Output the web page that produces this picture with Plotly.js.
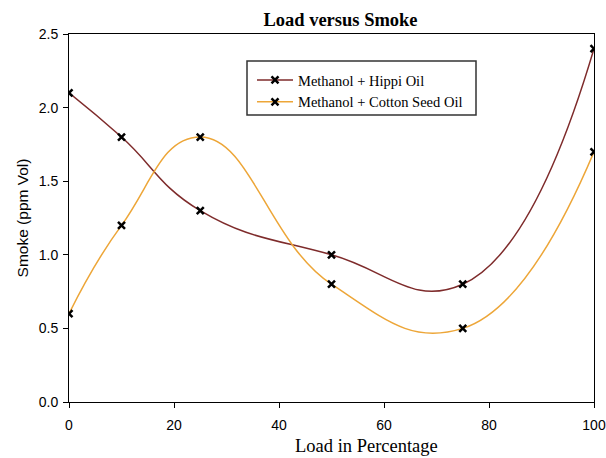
<!DOCTYPE html>
<html><head><script src="https://cdn.plot.ly/plotly-3.0.1.min.js"></script>
<style>body{margin:0}</style></head><body>
<div id="chart" style="width:606px;height:458px"></div>
<script>
const loads = [0, 10, 25, 50, 75, 100];
const hippi = [2.1, 1.8, 1.3, 1.0, 0.8, 2.4];
const cotton = [0.6, 1.2, 1.8, 0.8, 0.5, 1.7];
const seriesNames = ["Methanol + Hippi Oil", "Methanol + Cotton Seed Oil"];
const xTicks = [0, 20, 40, 60, 80, 100];
const yTicks = [0, 0.5, 1, 1.5, 2, 2.5];

const mk = {symbol: "x-thin", size: 7, color: "black", line: {color: "black", width: 2.5}};
const traces = [
  {x: loads, y: hippi, name: seriesNames[0], mode: "lines+markers", line: {color: "#7E2B2B", width: 1.5, shape: "spline", smoothing: 1.3}, marker: mk},
  {x: loads, y: cotton, name: seriesNames[1], mode: "lines+markers", line: {color: "#EDA638", width: 1.5, shape: "spline", smoothing: 1.3}, marker: mk}
];
const layout = {
  width: 606, height: 458,
  margin: {l: 69, r: 12, t: 34, b: 56},
  paper_bgcolor: "white", plot_bgcolor: "white",
  title: {text: "<b>Load versus Smoke</b>", font: {family: "Liberation Serif", size: 18.5, color: "black"}, x: 340.5/606, xanchor: "center", xref: "container", yref: "container", y: 1 - 20/458, yanchor: "middle"},
  xaxis: {range: [0, 100], tickvals: xTicks, ticks: "outside", ticklen: 5, tickcolor: "black", showline: true, linecolor: "black", linewidth: 1, mirror: true, showgrid: false, zeroline: false,
    ticklabelstandoff: 5,
    tickfont: {family: "Liberation Sans", size: 14, color: "black"}},
  yaxis: {range: [0, 2.5], tickvals: yTicks, tickformat: ".1f", ticks: "outside", ticklen: 5, tickcolor: "black", showline: true, linecolor: "black", linewidth: 1, mirror: true, showgrid: false, zeroline: false,
    ticklabelstandoff: 2,
    tickfont: {family: "Liberation Sans", size: 14, color: "black"},
    title: {text: "Smoke (ppm Vol)", font: {family: "Liberation Sans", size: 15.5, color: "black"}, standoff: 6}},
  annotations: [{text: "Load in Percentage", xref: "paper", yref: "paper", x: (366-69)/525, y: -(446-402)/368, xanchor: "center", yanchor: "middle", showarrow: false, font: {family: "Liberation Serif", size: 18.5, color: "black"}}],
  shapes: [{type: "rect", xref: "paper", yref: "paper", x0: (247-69)/525, x1: (476-69)/525, y0: (402-61)/368, y1: (402-115)/368, line: {color: "#333", width: 1.5}, fillcolor: "white", layer: "above"}],
  showlegend: true,
  legend: {x: (252-69)/525, y: (402-64)/368, xanchor: "left", yanchor: "top", bgcolor: "rgba(0,0,0,0)", borderwidth: 0, font: {family: "Liberation Serif", size: 14.5, color: "black"}, tracegroupgap: 0, itemwidth: 36}
};
Plotly.newPlot("chart", traces, layout, {displayModeBar: false});
</script></body></html>
